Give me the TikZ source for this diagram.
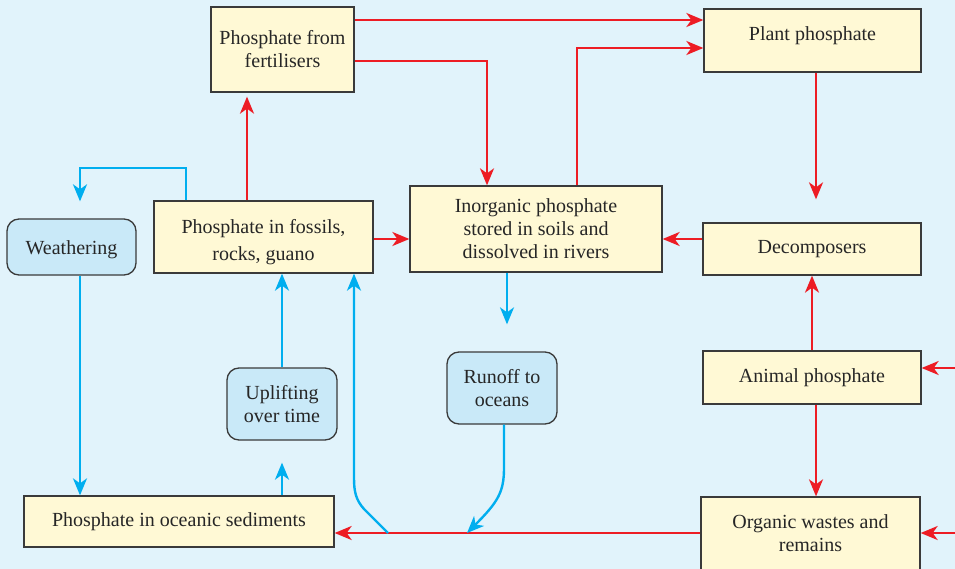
\documentclass[tikz,border=0pt]{standalone}
\usepackage{fontspec}
\setmainfont{Liberation Serif}
\usetikzlibrary{arrows.meta,positioning}

\definecolor{bgblue}{HTML}{E1F3FB}
\definecolor{boxyellow}{HTML}{FFF9D5}
\definecolor{boxblue}{HTML}{C9E9F8}
\definecolor{flowred}{HTML}{ED1C24}
\definecolor{flowblue}{HTML}{00AEEF}
\definecolor{edgegray}{HTML}{3A3A3A}

\newcommand{\liftby}[2]{\raisebox{#1}[\height][\depth]{#2}}

\begin{document}
\begin{tikzpicture}[x=1pt,y=-1pt,
    ybox/.style={draw=edgegray,line width=1.3pt,fill=boxyellow,align=center,inner sep=0pt,
      font=\fontsize{20}{23}\selectfont,text=black!85},
    bbox/.style={ybox,fill=boxblue,rounded corners=12pt},
    redflow/.style={draw=flowred,line width=2.4pt,-{Stealth[length=17pt,width=14pt,inset=5pt]}},
    blueflow/.style={redflow,draw=flowblue}]
        \useasboundingbox (0,0) rectangle (955,569);
        \fill[bgblue] (0,0) rectangle (955,569);
        \clip (0,0) rectangle (955,569);
        \node[ybox,minimum width=143pt,minimum height=85pt] (fertiliser) at (282.5,49.5) {Phosphate from\\fertilisers};
        \node[ybox,minimum width=217pt,minimum height=63pt] (plantp) at (812.5,40.5) {\liftby{5pt}{Plant phosphate}};
        \node[ybox,minimum width=219pt,minimum height=72pt] (fossils) at (263.5,237) {\liftby{-5pt}{\begin{tabular}{@{}c@{}}Phosphate in fossils,\\[4pt]rocks, guano\end{tabular}}};
        \node[ybox,minimum width=252pt,minimum height=86pt] (inorganic) at (536,229) {Inorganic phosphate\\stored in soils and\\dissolved in rivers};
        \node[ybox,minimum width=218pt,minimum height=52pt] (decomp) at (812,249) {Decomposers};
        \node[bbox,minimum width=129pt,minimum height=56pt] (weather) at (71.5,247) {\liftby{-3pt}{Weathering}};
        \node[bbox,minimum width=110pt,minimum height=72pt] (uplift) at (282,404) {Uplifting\\over time};
        \node[bbox,minimum width=110pt,minimum height=72pt] (runoff) at (502,388) {Runoff to\\oceans};
        \node[ybox,minimum width=218pt,minimum height=53pt] (animal) at (812,377.5) {Animal phosphate};
        \node[ybox,minimum width=310pt,minimum height=51pt] (sediment) at (179,521.5) {Phosphate in oceanic sediments};
        \node[ybox,minimum width=219pt,minimum height=84pt] (organic) at (810.5,539) {\liftby{4pt}{\begin{tabular}{@{}c@{}}Organic wastes and\\remains\end{tabular}}};
        \coordinate (animalin) at (955,368);
        \coordinate (organicin) at (955,533);
        \coordinate (upjoin) at (388,533);
        \coordinate (runjoin) at (467,533);
        % red flows
        \draw[redflow] (fertiliser.east |- 0,20) -- (plantp.west |- 0,20);
        \draw[redflow] (fertiliser.east |- 0,61) -| (inorganic.north -| 487,0);
        \draw[redflow] (inorganic.north -| 577,0) |- (plantp.west |- 0,48);
        \draw[redflow,shorten >=23pt] (plantp.south -| 816,0) -- (decomp.north -| 816,0);
        \draw[redflow] (decomp.west |- 0,239) -- (inorganic.east |- 0,239);
        \draw[redflow] (animal.north) -- (decomp.south);
        \draw[redflow] (animal.south -| 816,0) -- (organic.north -| 816,0);
        \draw[redflow] (organic.west |- 0,533) -- (sediment.east |- 0,533);
        \draw[redflow,shorten >=4pt] (fossils.north -| 247,0) -- (fertiliser.south -| 247,0);
        \draw[redflow] (fossils.east |- 0,239) -- (inorganic.west |- 0,239);
        \draw[redflow] (animalin) -- (animal.east |- animalin);
        \draw[redflow] (organicin) -- (organic.east |- organicin);
        % blue flows
        \draw[blueflow,shorten >=17pt] (fossils.north -| 186,0) |- (80,168) -- (weather.north -| 80,0);
        \draw[blueflow] (weather.south -| 80,0) -- (sediment.north -| 80,0);
        \draw[blueflow,shorten >=22pt] (sediment.north -| 282,0) -- (uplift.south);
        \draw[blueflow] (uplift.north) -- (fossils.south -| 282,0);
        \draw[blueflow] (upjoin) -- (364,509) .. controls (356,500) and (354,492) .. (354,478) -- (fossils.south -| 354,0);
        \draw[blueflow] (runoff.south -| 504,0) -- (504,468) .. controls (504,492) and (498,502) .. (runjoin);
        \draw[blueflow,shorten >=27pt] (inorganic.south -| 507,0) -- (runoff.north -| 507,0);
      \end{tikzpicture}
\end{document}
